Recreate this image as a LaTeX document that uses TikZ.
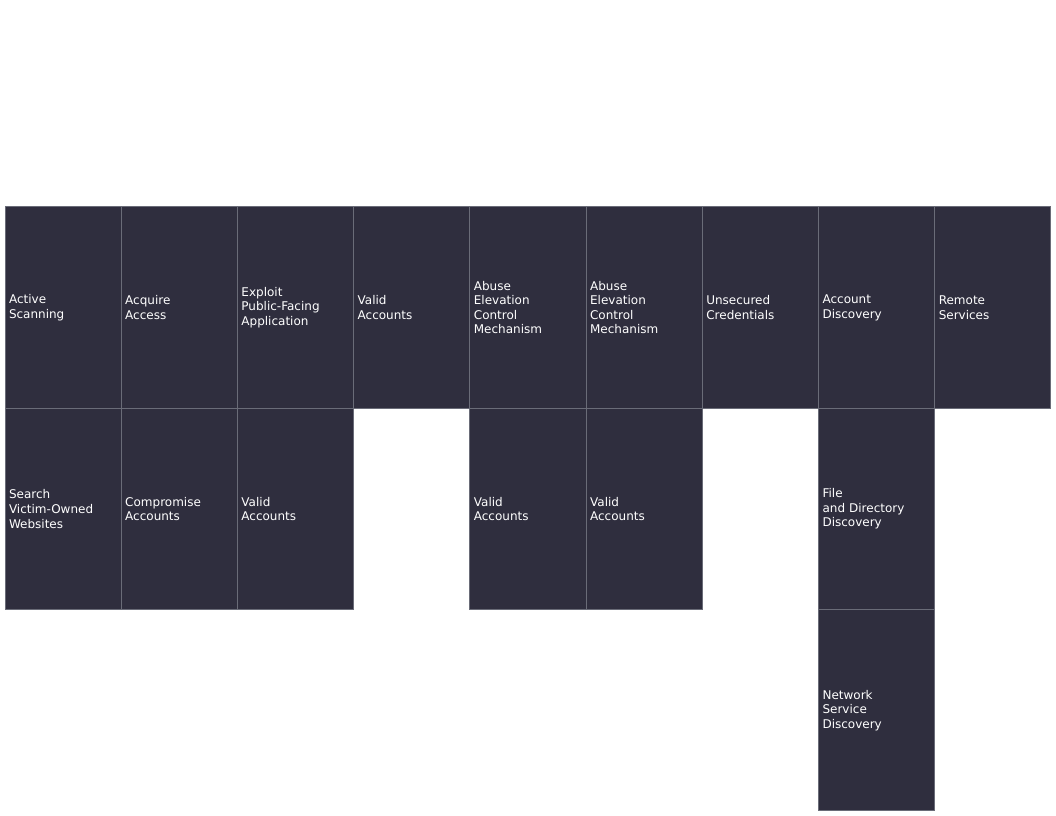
\documentclass[tikz,border=0pt]{standalone}
\usepackage{fontspec}
\setmainfont{DejaVu Sans}
\definecolor{cellfill}{HTML}{2F2E3E}
\definecolor{cellline}{HTML}{6A6C78}
\begin{document}
\begin{tikzpicture}[x=0.75pt,y=-0.75pt,
  cell/.style={draw=cellline, line width=0.75pt, fill=cellfill, text=white,
    rectangle, inner xsep=3pt, inner ysep=0pt,
    text width=81.16pt, align=left,
    minimum width=87.16pt, minimum height=151pt,
    font=\fontsize{9pt}{10.9pt}\selectfont}]
\useasboundingbox (0,0) rectangle (1056,816);
\def\cw{116.22}
\def\rh{201.33}
% helper: center of column c, row r
\newcommand{\cellat}[4]{%
  \node[cell] (#1) at ({5+\cw*(#2+0.5)},{207+\rh*(#3+0.5)}) {#4};}
\cellat{a0}{0}{0}{Active\\Scanning}
\cellat{a1}{0}{1}{Search\\Victim-Owned\\Websites}
\cellat{b0}{1}{0}{Acquire\\Access}
\cellat{b1}{1}{1}{Compromise\\Accounts}
\cellat{c0}{2}{0}{Exploit\\Public-Facing\\Application}
\cellat{c1}{2}{1}{Valid\\Accounts}
\cellat{d0}{3}{0}{Valid\\Accounts}
\cellat{e0}{4}{0}{Abuse\\Elevation\\Control\\Mechanism}
\cellat{e1}{4}{1}{Valid\\Accounts}
\cellat{f0}{5}{0}{Abuse\\Elevation\\Control\\Mechanism}
\cellat{f1}{5}{1}{Valid\\Accounts}
\cellat{g0}{6}{0}{Unsecured\\Credentials}
\cellat{h0}{7}{0}{Account\\Discovery}
\cellat{h1}{7}{1}{File\\and Directory\\Discovery}
\cellat{h2}{7}{2}{Network\\Service\\Discovery}
\cellat{i0}{8}{0}{Remote\\Services}
\end{tikzpicture}
\end{document}
